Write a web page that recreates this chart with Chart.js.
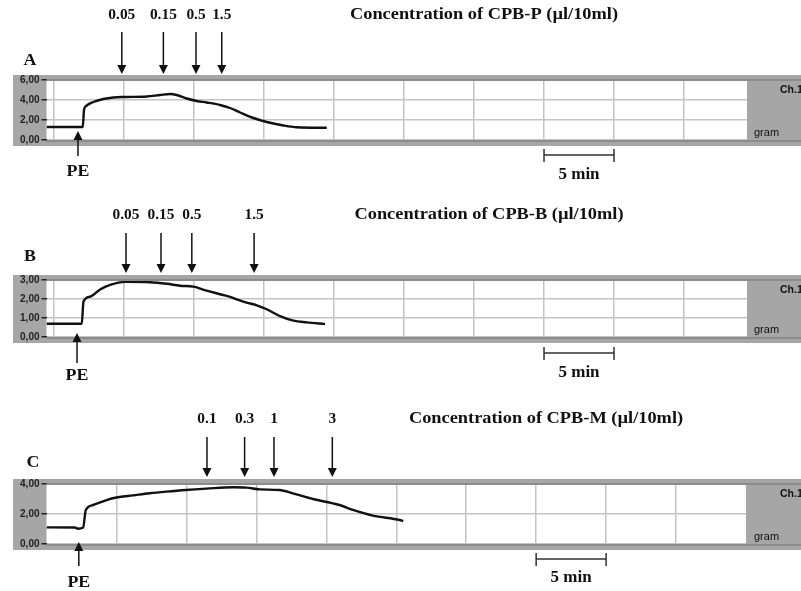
<!DOCTYPE html>
<html>
<head>
<meta charset="utf-8">
<script src="https://cdn.jsdelivr.net/npm/chart.js@4.4.1/dist/chart.umd.min.js"></script>
<style>
  body { margin: 0; background: #fff; }
  .wrap { position: relative; width: 801px; height: 591px; overflow: hidden; }
  canvas { position: absolute; left: 0; }
</style>
</head>
<body>
<div class="wrap">
  <canvas id="chartA" width="801" height="190" style="top:0px"></canvas>
  <canvas id="chartB" width="801" height="200" style="top:190px"></canvas>
  <canvas id="chartC" width="801" height="201" style="top:390px"></canvas>
</div>
<script>
// time in minutes, tension in gram
var timeA = [-0.54, 2.05, 2.14, 2.29, 2.81, 3.52, 4.24, 5.07, 6.62, 7.57, 8.29, 8.76, 9.48, 10.19, 10.9, 11.86, 12.57, 13.29, 14.24, 15.19, 16.38, 17.33, 19.48];
var tensionA = [1.3, 1.3, 3.0, 3.4, 3.8, 4.1, 4.25, 4.3, 4.35, 4.5, 4.6, 4.5, 4.15, 3.9, 3.75, 3.5, 3.2, 2.75, 2.2, 1.8, 1.45, 1.27, 1.22];
var doseTimeA = [4.84, 7.81, 10.14, 11.98];
var doseLabelA = ["0.05", "0.15", "0.5", "1.5"];
var peTimeA = 1.71;
var ticksA = [0, 2, 4, 6];

var timeB = [-0.54, 1.98, 2.1, 2.57, 3.29, 4.0, 5.07, 6.86, 8.05, 9.0, 9.95, 10.9, 12.33, 13.76, 14.48, 15.19, 16.14, 17.1, 18.05, 19.36];
var tensionB = [0.7, 0.7, 1.86, 2.12, 2.5, 2.74, 2.9, 2.88, 2.8, 2.7, 2.65, 2.44, 2.16, 1.81, 1.67, 1.46, 1.1, 0.86, 0.77, 0.68];
var doseTimeB = [5.14, 7.64, 9.84, 14.29];
var doseLabelB = ["0.05", "0.15", "0.5", "1.5"];
var peTimeB = 1.64;
var ticksB = [0, 1, 2, 3];

var timeC = [0, 2.02, 2.26, 2.62, 2.81, 3.33, 4.29, 5.0, 6.19, 7.38, 8.57, 9.95, 11.43, 13.33, 14.29, 15.24, 16.66, 17.61, 19.04, 20.47, 20.95, 21.9, 23.33, 25.24, 25.5];
var tensionC = [1.11, 1.1, 1.02, 1.1, 2.27, 2.6, 2.93, 3.1, 3.24, 3.38, 3.49, 3.6, 3.69, 3.78, 3.76, 3.64, 3.6, 3.38, 3.0, 2.71, 2.6, 2.27, 1.89, 1.6, 1.53];
var doseTimeC = [11.47, 14.16, 16.26, 20.43];
var doseLabelC = ["0.1", "0.3", "1", "3"];
var peTimeC = 2.31;
var ticksC = [0, 2, 4];

var gridAB = [0, 5, 10, 15, 20, 25, 30, 35, 40, 45];
var gridC = [5, 10, 15, 20, 25, 30, 35, 40, 45];
var scaleBar = [35, 40];

var titleA = "Concentration of CPB-P (\u00b5l/10ml)";
var titleB = "Concentration of CPB-B (\u00b5l/10ml)";
var titleC = "Concentration of CPB-M (\u00b5l/10ml)";

var SERIF = '"Liberation Serif", "Times New Roman", serif';
var SANS = '"Liberation Sans", Arial, sans-serif';

function txt(ctx, s, x, y, font, align, sx) {
    ctx.save();
    ctx.translate(x, y);
    ctx.scale(sx || 1, 1);
    ctx.font = font;
    ctx.textAlign = align || 'center';
    ctx.textBaseline = 'middle';
    ctx.fillStyle = '#111';
    ctx.fillText(s, 0, 0);
    ctx.restore();
}

function arrowDown(ctx, x, y0, y1) {
    ctx.beginPath();
    ctx.moveTo(x, y0);
    ctx.lineTo(x, y1 - 7);
    ctx.stroke();
    ctx.beginPath();
    ctx.moveTo(x - 4.5, y1 - 9);
    ctx.lineTo(x + 4.5, y1 - 9);
    ctx.lineTo(x, y1);
    ctx.closePath();
    ctx.fill();
}

function arrowUp(ctx, x, y0, y1) {
    // y0 = tip (top), y1 = tail
    ctx.beginPath();
    ctx.moveTo(x, y1);
    ctx.lineTo(x, y0 + 7);
    ctx.stroke();
    ctx.beginPath();
    ctx.moveTo(x - 4.5, y0 + 9);
    ctx.lineTo(x + 4.5, y0 + 9);
    ctx.lineTo(x, y0);
    ctx.closePath();
    ctx.fill();
}

var framePlugin = {
    id: 'frame',
    beforeDraw: function(chart) {
        var ctx = chart.ctx, a = chart.chartArea;
        ctx.save();
        ctx.fillStyle = '#a6a6a6';
        ctx.fillRect(13, a.top - 5, 801 - 13, a.bottom - a.top + 11);
        ctx.fillStyle = '#ffffff';
        ctx.fillRect(a.left, a.top, a.right - a.left, a.bottom - a.top);
        ctx.restore();
    },
    afterDraw: function(chart) {
        var ctx = chart.ctx, a = chart.chartArea;
        var p = chart.options.plugins.frame;
        var xs = chart.scales.x;
        ctx.save();
        // inner edges of the frame
        ctx.strokeStyle = '#8c8c8c';
        ctx.lineWidth = 2;
        ctx.beginPath();
        ctx.moveTo(a.left, a.top);
        ctx.lineTo(801, a.top);
        ctx.moveTo(a.left, a.bottom + 1);
        ctx.lineTo(801, a.bottom + 1);
        ctx.stroke();

        ctx.strokeStyle = '#111';
        ctx.fillStyle = '#111';
        ctx.lineWidth = 1.5;
        // doses
        p.doses.forEach(function(t, i) {
            var x = xs.getPixelForValue(t);
            arrowDown(ctx, x, p.arrowY0, p.arrowY1);
            txt(ctx, p.doseLabels[i], x, p.labelY, 'bold 14px ' + SERIF, 'center', 1.1);
        });
        // PE
        var px = xs.getPixelForValue(p.pe);
        arrowUp(ctx, px, p.peTip, p.peTail);
        txt(ctx, 'PE', px, p.peLabelY, 'bold 17px ' + SERIF, 'center', 1.05);
        // panel letter & title
        txt(ctx, p.letter, p.letterX, p.letterY, 'bold 17px ' + SERIF, 'center', 1.05);
        txt(ctx, p.title, p.titleX, p.labelY, 'bold 17px ' + SERIF, 'center', 1.08);
        // 5 min bar
        var b0 = xs.getPixelForValue(scaleBar[0]), b1 = xs.getPixelForValue(scaleBar[1]);
        ctx.strokeStyle = '#333';
        ctx.beginPath();
        ctx.moveTo(b0, p.barY); ctx.lineTo(b1, p.barY);
        ctx.moveTo(b0, p.barY - 6); ctx.lineTo(b0, p.barY + 7);
        ctx.moveTo(b1, p.barY - 6); ctx.lineTo(b1, p.barY + 7);
        ctx.stroke();
        txt(ctx, '5 min', (b0 + b1) / 2, p.barLabelY, 'bold 17px ' + SERIF, 'center', 1.0);
        // channel box
        txt(ctx, 'Ch.1', 780, a.top + 10, 'bold 10px ' + SANS, 'left', 1.05);
        txt(ctx, 'gram', 754, a.bottom - 7, '10px ' + SANS, 'left', 1.1);
        ctx.restore();
    }
};

function makeChart(id, cfg) {
    var pts = cfg.time.map(function(t, i) { return { x: t, y: cfg.tension[i] }; });
    return new Chart(document.getElementById(id), {
        type: 'line',
        data: {
            datasets: [{
                data: pts,
                borderColor: '#111',
                borderWidth: 2.4,
                pointRadius: 0,
                cubicInterpolationMode: 'monotone',
                fill: false
            }]
        },
        options: {
            responsive: false,
            animation: false,
            layout: { padding: { top: cfg.padTop, bottom: cfg.padBottom, left: 0, right: cfg.padRight } },
            scales: {
                x: {
                    type: 'linear',
                    min: cfg.xMin,
                    max: cfg.xMax,
                    afterBuildTicks: function(s) { s.ticks = cfg.grid.map(function(v) { return { value: v }; }); },
                    afterFit: function(s) { s.height = 0; },
                    ticks: { display: false },
                    grid: { color: '#c4c4c4', lineWidth: 1.5, drawTicks: false },
                    border: { display: false }
                },
                y: {
                    min: 0,
                    max: cfg.yMax,
                    afterBuildTicks: function(s) { s.ticks = cfg.yTicks.map(function(v) { return { value: v }; }); },
                    afterFit: function(s) { s.width = 46.5; },
                    ticks: {
                        padding: 2,
                        color: '#222',
                        font: { family: SANS, size: 10, weight: 'bold' },
                        callback: function(v) { return v.toFixed(2).replace('.', ','); }
                    },
                    grid: { color: '#c4c4c4', lineWidth: 1.5, tickLength: 5, tickColor: '#222', tickWidth: 1.5 },
                    border: { display: false }
                }
            },
            plugins: {
                legend: { display: false },
                tooltip: { enabled: false },
                frame: cfg
            }
        },
        plugins: [framePlugin]
    });
}

makeChart('chartA', {
    time: timeA, tension: tensionA, yMax: 6, yTicks: ticksA, xMin: -0.54, xMax: 49.5, grid: gridAB,
    doses: doseTimeA, doseLabels: doseLabelA, pe: peTimeA, title: titleA, letter: 'A',
    padTop: 80, padBottom: 50, padRight: 54,
    letterX: 30, letterY: 61, titleX: 484, labelY: 15, arrowY0: 32, arrowY1: 74,
    peTip: 131, peTail: 156, peLabelY: 172, barY: 155, barLabelY: 175
});

makeChart('chartB', {
    time: timeB, tension: tensionB, yMax: 3, yTicks: ticksB, xMin: -0.54, xMax: 49.5, grid: gridAB,
    doses: doseTimeB, doseLabels: doseLabelB, pe: peTimeB, title: titleB, letter: 'B',
    padTop: 90, padBottom: 53, padRight: 54,
    letterX: 30, letterY: 67, titleX: 489, labelY: 25, arrowY0: 43, arrowY1: 83,
    peTip: 143, peTail: 173, peLabelY: 186, barY: 163, barLabelY: 183
});

makeChart('chartC', {
    time: timeC, tension: tensionC, yMax: 4, yTicks: ticksC, xMin: 0, xMax: 50, grid: gridC,
    doses: doseTimeC, doseLabels: doseLabelC, pe: peTimeC, title: titleC, letter: 'C',
    padTop: 94, padBottom: 47, padRight: 55,
    letterX: 33, letterY: 73, titleX: 546, labelY: 29, arrowY0: 47, arrowY1: 87,
    peTip: 152, peTail: 176, peLabelY: 193, barY: 169, barLabelY: 188
});
</script>
</body>
</html>
